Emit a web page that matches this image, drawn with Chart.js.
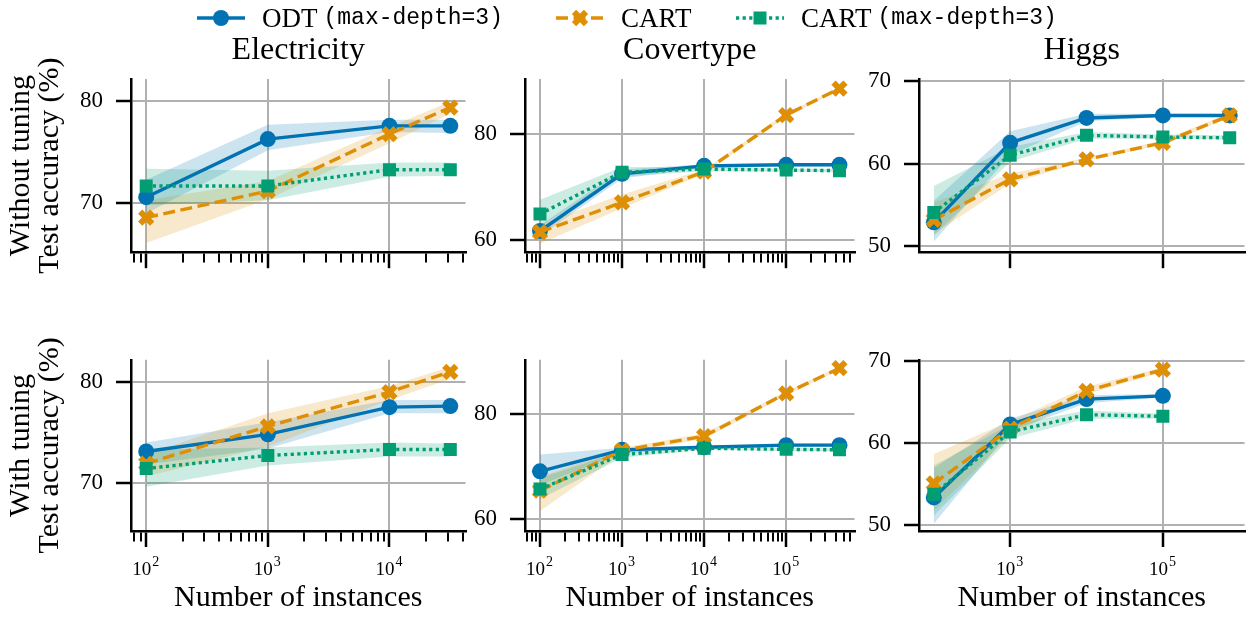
<!DOCTYPE html>
<html>
<head>
<meta charset="utf-8">
<script src="https://cdn.jsdelivr.net/npm/chart.js@4.4.1/dist/chart.umd.min.js"></script>
<style>
  html, body { margin: 0; padding: 0; background: #fff; }
  #fig { position: relative; width: 1259px; height: 617px; overflow: hidden; }
  #fig canvas { position: absolute; }
  .leg { position: absolute; top: 4px; height: 28px; display: flex; align-items: center;
         font-family: "Liberation Serif", "Times New Roman", serif; font-size: 27px; color: #000; white-space: nowrap; }
  .leg svg { margin-right: 17px; }
  .leg .tt { font-family: "Liberation Mono", "DejaVu Sans Mono", monospace; font-size: 23px; margin-left: 6px; }
</style>
</head>
<body>
<div id="fig"></div>
<script>
/* ── Data: instance counts (x) ───────────────────────────────── */
const ELEC_N        = [100, 1000, 10000, 31623];
const COVER_N       = [100, 1000, 10000, 100000, 446000];
const HIGGS_N       = [100, 1000, 10000, 100000, 750000];
const HIGGS_N_TUNED = [100, 1000, 10000, 100000];

/* ── Electricity, without tuning (mean / lower / upper) ──────── */
const ELEC_ODT      = [70.6, 76.3, 77.6, 77.6];
const ELEC_ODT_LO   = [69.0, 75.2, 77.0, 76.9];
const ELEC_ODT_HI   = [72.3, 77.7, 78.2, 78.2];
const ELEC_CART     = [68.6, 71.2, 76.8, 79.4];
const ELEC_CART_LO  = [66.1, 70.4, 75.9, 78.8];
const ELEC_CART_HI  = [70.3, 72.2, 77.5, 80.0];
const ELEC_CART3    = [71.7, 71.7, 73.3, 73.3];
const ELEC_CART3_LO = [69.8, 70.3, 72.6, 72.7];
const ELEC_CART3_HI = [73.4, 73.2, 74.0, 74.0];

/* ── Electricity, with tuning ────────────────────────────────── */
const ELEC_T_ODT      = [73.1, 74.8, 77.5, 77.6];
const ELEC_T_ODT_LO   = [71.8, 73.4, 76.9, 76.9];
const ELEC_T_ODT_HI   = [74.0, 76.0, 78.2, 78.2];
const ELEC_T_CART     = [71.9, 75.6, 79.0, 81.0];
const ELEC_T_CART_LO  = [70.6, 73.6, 78.2, 80.3];
const ELEC_T_CART_HI  = [72.8, 76.9, 79.6, 81.5];
const ELEC_T_CART3    = [71.4, 72.7, 73.3, 73.3];
const ELEC_T_CART3_LO = [69.6, 71.7, 72.6, 72.6];
const ELEC_T_CART3_HI = [73.3, 73.5, 74.0, 73.9];

/* ── Covertype, without tuning ───────────────────────────────── */
const COVER_ODT      = [61.7, 72.5, 74.0, 74.2, 74.2];
const COVER_ODT_LO   = [60.7, 71.6, 73.6, 73.9, 73.9];
const COVER_ODT_HI   = [62.8, 73.3, 74.3, 74.5, 74.5];
const COVER_CART     = [61.5, 67.1, 72.9, 83.6, 88.6];
const COVER_CART_LO  = [59.3, 66.0, 72.5, 83.2, 88.3];
const COVER_CART_HI  = [63.0, 68.6, 73.3, 84.0, 88.9];
const COVER_CART3    = [64.9, 72.8, 73.4, 73.2, 73.1];
const COVER_CART3_LO = [62.5, 72.0, 73.0, 72.9, 72.8];
const COVER_CART3_HI = [67.6, 73.8, 73.8, 73.5, 73.4];

/* ── Covertype, with tuning ──────────────────────────────────── */
const COVER_T_ODT      = [69.1, 73.2, 73.7, 74.1, 74.1];
const COVER_T_ODT_LO   = [66.5, 72.6, 73.4, 73.8, 73.8];
const COVER_T_ODT_HI   = [72.3, 73.6, 74.0, 74.4, 74.4];
const COVER_T_CART     = [65.4, 73.1, 75.8, 84.0, 88.8];
const COVER_T_CART_LO  = [61.5, 72.5, 75.3, 83.6, 88.5];
const COVER_T_CART_HI  = [68.0, 73.6, 76.3, 84.4, 89.1];
const COVER_T_CART3    = [65.7, 72.3, 73.5, 73.3, 73.2];
const COVER_T_CART3_LO = [63.8, 71.7, 73.2, 73.0, 72.9];
const COVER_T_CART3_HI = [67.8, 73.0, 73.8, 73.6, 73.5];

/* ── Higgs, without tuning ───────────────────────────────────── */
const HIGGS_ODT      = [52.9, 62.5, 65.5, 65.8, 65.8];
const HIGGS_ODT_LO   = [50.6, 61.0, 65.1, 65.6, 65.6];
const HIGGS_ODT_HI   = [55.5, 63.9, 66.0, 66.0, 66.0];
const HIGGS_CART     = [53.2, 58.1, 60.5, 62.5, 65.8];
const HIGGS_CART_LO  = [51.5, 57.6, 60.3, 62.3, 65.5];
const HIGGS_CART_HI  = [55.3, 58.8, 60.7, 62.8, 66.1];
const HIGGS_CART3    = [54.1, 61.0, 63.4, 63.2, 63.1];
const HIGGS_CART3_LO = [51.3, 60.2, 63.0, 63.0, 62.9];
const HIGGS_CART3_HI = [57.3, 62.0, 63.8, 63.5, 63.4];

/* ── Higgs, with tuning ──────────────────────────────────────── */
const HIGGS_T_ODT      = [53.4, 62.3, 65.4, 65.8];
const HIGGS_T_ODT_LO   = [50.2, 61.5, 64.9, 65.6];
const HIGGS_T_ODT_HI   = [57.0, 63.0, 65.9, 66.0];
const HIGGS_T_CART     = [55.1, 61.8, 66.4, 69.0];
const HIGGS_T_CART_LO  = [51.8, 60.9, 66.0, 68.7];
const HIGGS_T_CART_HI  = [58.7, 62.7, 66.9, 69.3];
const HIGGS_T_CART3    = [53.8, 61.4, 63.5, 63.3];
const HIGGS_T_CART3_LO = [51.2, 60.6, 63.0, 63.0];
const HIGGS_T_CART3_HI = [57.3, 62.3, 64.0, 63.6];

/* ── Axes: ranges, ticks, labels ─────────────────────────────── */
const ELEC_X_RANGE  = [75, 42170];
const COVER_X_RANGE = [65.7, 680000];
const HIGGS_X_RANGE = [64, 1172000];
const ELEC_X_MAJOR  = [100, 1000, 10000];
const COVER_X_MAJOR = [100, 1000, 10000, 100000];
const HIGGS_X_MAJOR = [1000, 100000];

const ELEC_Y_RANGE  = [65.2, 82.2];
const COVER_Y_RANGE = [57.7, 90.4];
const HIGGS_Y_RANGE = [49.3, 70.2];
const ELEC_Y_TICKS  = [70, 80];
const COVER_Y_TICKS = [60, 80];
const HIGGS_Y_TICKS = [50, 60, 70];

const TITLES     = ["Electricity", "Covertype", "Higgs"];
const ROW_LABELS = [["Without tuning", "Test accuracy (%)"], ["With tuning", "Test accuracy (%)"]];
const X_LABEL    = "Number of instances";

/* ── Style ───────────────────────────────────────────────────── */
const SERIF  = "'Liberation Serif', 'Times New Roman', serif";
const BLUE   = "#0173b2";
const ORANGE = "#de8f05";
const GREEN  = "#029e73";
const GRID   = "#b0b0b0";
const INK    = "#000";

Chart.defaults.font.family = SERIF;
Chart.defaults.color = INK;

const fade = (hex, a) => {
  const n = parseInt(hex.slice(1), 16);
  return `rgba(${(n >> 16) & 255}, ${(n >> 8) & 255}, ${n & 255}, ${a})`;
};

// matplotlib-ish line/marker look per method; order: lower = drawn on top
const STYLE = {
  odt:   { color: BLUE,   dash: [],        point: "circle",   radius: 8,   pbw: 0, order: 3 },
  cart:  { color: ORANGE, dash: [12, 5.5], point: "crossRot", radius: 8.5, pbw: 6, order: 2 },
  cart3: { color: GREEN,  dash: [3.2, 3.4], point: "rect",    radius: 9.2, pbw: 0, order: 1 },
};
const LINE_W = 3.4;

// log ticks: the given majors, plus 2..9 x 10^k minors when asked
function logTicks(range, majors, withMinor) {
  const out = [];
  const e0 = Math.floor(Math.log10(range[0])), e1 = Math.ceil(Math.log10(range[1]));
  for (let e = e0; e <= e1; e++) {
    for (let m = 1; m <= 9; m++) {
      const v = m * Math.pow(10, e);
      if (v < range[0] || v > range[1]) continue;
      if (m === 1 ? majors.includes(v) : withMinor) out.push(v);
    }
  }
  return out;
}

function seriesSets(key, n, mean, lo, hi) {
  const s = STYLE[key];
  const pts = (arr) => n.map((v, i) => ({ x: v, y: arr[i] }));
  const band = { fill: false, borderWidth: 0, borderColor: "transparent", pointRadius: 0, order: 10 + s.order };
  return [
    { ...band, data: pts(hi), fill: "+1", backgroundColor: fade(s.color, 0.2) },
    { ...band, data: pts(lo) },
    {
      data: pts(mean),
      fill: false,
      borderColor: s.color,
      borderWidth: LINE_W,
      borderDash: s.dash,
      pointStyle: s.point,
      pointRadius: s.radius,
      pointBackgroundColor: s.color,
      pointBorderColor: s.color,
      pointBorderWidth: s.pbw,
      order: s.order,
    },
  ];
}

// "10" + raised exponent under each major x tick (matplotlib mathtext look)
const powerLabels = {
  id: "powerLabels",
  afterDraw(chart, args, opts) {
    if (!opts.majors) return;
    const { ctx, chartArea } = chart;
    const sx = chart.scales.x;
    const base = chartArea.bottom + 44;
    ctx.save();
    ctx.fillStyle = INK;
    ctx.textBaseline = "alphabetic";
    ctx.textAlign = "left";
    opts.majors.forEach((v) => {
      const e = String(Math.round(Math.log10(v)));
      ctx.font = `19px ${SERIF}`;
      const w1 = ctx.measureText("10").width;
      ctx.font = `14px ${SERIF}`;
      const w2 = ctx.measureText(e).width;
      const x0 = sx.getPixelForValue(v) - (w1 + w2) / 2 - 1;
      ctx.font = `19px ${SERIF}`;
      ctx.fillText("10", x0, base);
      ctx.font = `14px ${SERIF}`;
      ctx.fillText(e, x0 + w1 + 1, base - 9);
    });
    ctx.restore();
  },
};

/* ── Panel geometry (canvas boxes) ───────────────────────────── */
const COLS = [
  { x: 0,   w: 480, yW: 131, padR: 8 },
  { x: 470, w: 399, yW: 55,  padR: 4 },
  { x: 866, w: 393, yW: 53,  padR: 0 },
];
const ROWS = [
  { y: 28,  h: 251, padT: 0,  xH: 22 },
  { y: 333, h: 284, padT: 20, xH: 86 },
];

const COLUMNS = [
  { xRange: ELEC_X_RANGE,  xMajor: ELEC_X_MAJOR,  minor: true,  yRange: ELEC_Y_RANGE,  yTicks: ELEC_Y_TICKS },
  { xRange: COVER_X_RANGE, xMajor: COVER_X_MAJOR, minor: true,  yRange: COVER_Y_RANGE, yTicks: COVER_Y_TICKS },
  { xRange: HIGGS_X_RANGE, xMajor: HIGGS_X_MAJOR, minor: false, yRange: HIGGS_Y_RANGE, yTicks: HIGGS_Y_TICKS },
];

const PANELS = [
  { row: 0, col: 0, sets: [
      seriesSets("odt",   ELEC_N, ELEC_ODT,   ELEC_ODT_LO,   ELEC_ODT_HI),
      seriesSets("cart",  ELEC_N, ELEC_CART,  ELEC_CART_LO,  ELEC_CART_HI),
      seriesSets("cart3", ELEC_N, ELEC_CART3, ELEC_CART3_LO, ELEC_CART3_HI) ] },
  { row: 0, col: 1, sets: [
      seriesSets("odt",   COVER_N, COVER_ODT,   COVER_ODT_LO,   COVER_ODT_HI),
      seriesSets("cart",  COVER_N, COVER_CART,  COVER_CART_LO,  COVER_CART_HI),
      seriesSets("cart3", COVER_N, COVER_CART3, COVER_CART3_LO, COVER_CART3_HI) ] },
  { row: 0, col: 2, sets: [
      seriesSets("odt",   HIGGS_N, HIGGS_ODT,   HIGGS_ODT_LO,   HIGGS_ODT_HI),
      seriesSets("cart",  HIGGS_N, HIGGS_CART,  HIGGS_CART_LO,  HIGGS_CART_HI),
      seriesSets("cart3", HIGGS_N, HIGGS_CART3, HIGGS_CART3_LO, HIGGS_CART3_HI) ] },
  { row: 1, col: 0, sets: [
      seriesSets("odt",   ELEC_N, ELEC_T_ODT,   ELEC_T_ODT_LO,   ELEC_T_ODT_HI),
      seriesSets("cart",  ELEC_N, ELEC_T_CART,  ELEC_T_CART_LO,  ELEC_T_CART_HI),
      seriesSets("cart3", ELEC_N, ELEC_T_CART3, ELEC_T_CART3_LO, ELEC_T_CART3_HI) ] },
  { row: 1, col: 1, sets: [
      seriesSets("odt",   COVER_N, COVER_T_ODT,   COVER_T_ODT_LO,   COVER_T_ODT_HI),
      seriesSets("cart",  COVER_N, COVER_T_CART,  COVER_T_CART_LO,  COVER_T_CART_HI),
      seriesSets("cart3", COVER_N, COVER_T_CART3, COVER_T_CART3_LO, COVER_T_CART3_HI) ] },
  { row: 1, col: 2, sets: [
      seriesSets("odt",   HIGGS_N_TUNED, HIGGS_T_ODT,   HIGGS_T_ODT_LO,   HIGGS_T_ODT_HI),
      seriesSets("cart",  HIGGS_N_TUNED, HIGGS_T_CART,  HIGGS_T_CART_LO,  HIGGS_T_CART_HI),
      seriesSets("cart3", HIGGS_N_TUNED, HIGGS_T_CART3, HIGGS_T_CART3_LO, HIGGS_T_CART3_HI) ] },
];

const fig = document.getElementById("fig");

PANELS.forEach((p) => {
  const C = COLS[p.col], R = ROWS[p.row], A = COLUMNS[p.col];
  const top = p.row === 0, left = p.col === 0;
  const xTicks = logTicks(A.xRange, A.xMajor, A.minor);
  const isMajor = (v) => A.xMajor.some((m) => Math.abs(m - v) < 1e-6 * m);

  const cv = document.createElement("canvas");
  cv.width = C.w; cv.height = R.h;
  cv.style.left = C.x + "px"; cv.style.top = R.y + "px";
  fig.appendChild(cv);

  new Chart(cv, {
    type: "line",
    data: { datasets: p.sets.flat() },
    plugins: [powerLabels],
    options: {
      responsive: false,
      animation: false,
      events: [],
      layout: { padding: { top: R.padT, right: C.padR, left: 0, bottom: 0 } },
      plugins: {
        legend: { display: false },
        tooltip: { enabled: false },
        powerLabels: { majors: top ? null : A.xMajor },
        title: {
          display: top,
          text: TITLES[p.col],
          fullSize: false,
          color: INK,
          font: { family: SERIF, size: 32, weight: "normal", lineHeight: 1.2 },
          padding: { top: 3, bottom: 9.6 },
        },
      },
      scales: {
        x: {
          type: "logarithmic",
          min: A.xRange[0],
          max: A.xRange[1],
          afterBuildTicks: (s) => { s.ticks = xTicks.map((v) => ({ value: v })); },
          afterFit: (s) => { s.height = R.xH; },
          border: { display: true, color: INK, width: 2.5 },
          grid: {
            color: (c) => (c.tick && isMajor(c.tick.value) ? GRID : "rgba(0,0,0,0)"),
            lineWidth: 2,
            tickLength: 16,
            tickColor: INK,
            tickWidth: (c) => (c.tick && isMajor(c.tick.value) ? 2.5 : 2),
            tickBorderDash: (c) => (c.tick && isMajor(c.tick.value) ? [] : [9, 40]),
          },
          ticks: { display: false, autoSkip: false, maxRotation: 0 },
          title: {
            display: !top,
            text: X_LABEL,
            color: INK,
            font: { family: SERIF, size: 30, lineHeight: 1.2 },
            padding: { top: 0, bottom: 1 },
          },
        },
        y: {
          min: A.yRange[0],
          max: A.yRange[1],
          afterBuildTicks: (s) => { s.ticks = A.yTicks.map((v) => ({ value: v })); },
          afterFit: (s) => { s.width = C.yW; },
          border: { display: true, color: INK, width: 2.5 },
          grid: { color: GRID, lineWidth: 2, tickLength: 15, tickColor: INK, tickWidth: 2.5 },
          ticks: { padding: 13, color: INK, font: { family: SERIF, size: 23 } },
          title: {
            display: left,
            text: ROW_LABELS[p.row],
            color: INK,
            font: { family: SERIF, size: 30, lineHeight: 0.95 },
            padding: { top: 7, bottom: 0 },
          },
        },
      },
    },
  });
});

/* ── Shared legend across the top ────────────────────────────── */
const LEGEND = [
  { key: "odt",   name: "ODT",  tt: "(max-depth=3)", left: 197 },
  { key: "cart",  name: "CART", tt: "",              left: 556 },
  { key: "cart3", name: "CART", tt: "(max-depth=3)", left: 736 },
];

function handleSvg(key) {
  const s = STYLE[key];
  const w = 48, h = 28, cx = w / 2, cy = h / 2;
  let mark = "";
  if (s.point === "circle") mark = `<circle cx="${cx}" cy="${cy}" r="${s.radius}" fill="${s.color}"/>`;
  if (s.point === "rect") { const a = s.radius * Math.SQRT1_2; mark = `<rect x="${cx - a}" y="${cy - a}" width="${2 * a}" height="${2 * a}" fill="${s.color}"/>`; }
  if (s.point === "crossRot") {
    const a = s.radius * Math.SQRT1_2;
    mark = `<path d="M${cx - a} ${cy - a}L${cx + a} ${cy + a}M${cx - a} ${cy + a}L${cx + a} ${cy - a}" stroke="${s.color}" stroke-width="${s.pbw}"/>`;
  }
  return `<svg width="${w}" height="${h}" viewBox="0 0 ${w} ${h}">` +
    `<line x1="0" y1="${cy}" x2="${w}" y2="${cy}" stroke="${s.color}" stroke-width="${LINE_W}" stroke-dasharray="${s.dash.join(" ")}"/>` +
    mark + `</svg>`;
}

LEGEND.forEach((item) => {
  const el = document.createElement("div");
  el.className = "leg";
  el.style.left = item.left + "px";
  el.innerHTML = handleSvg(item.key) + `<span>${item.name}</span>` + (item.tt ? `<span class="tt">${item.tt}</span>` : "");
  fig.appendChild(el);
});
</script>
</body>
</html>
